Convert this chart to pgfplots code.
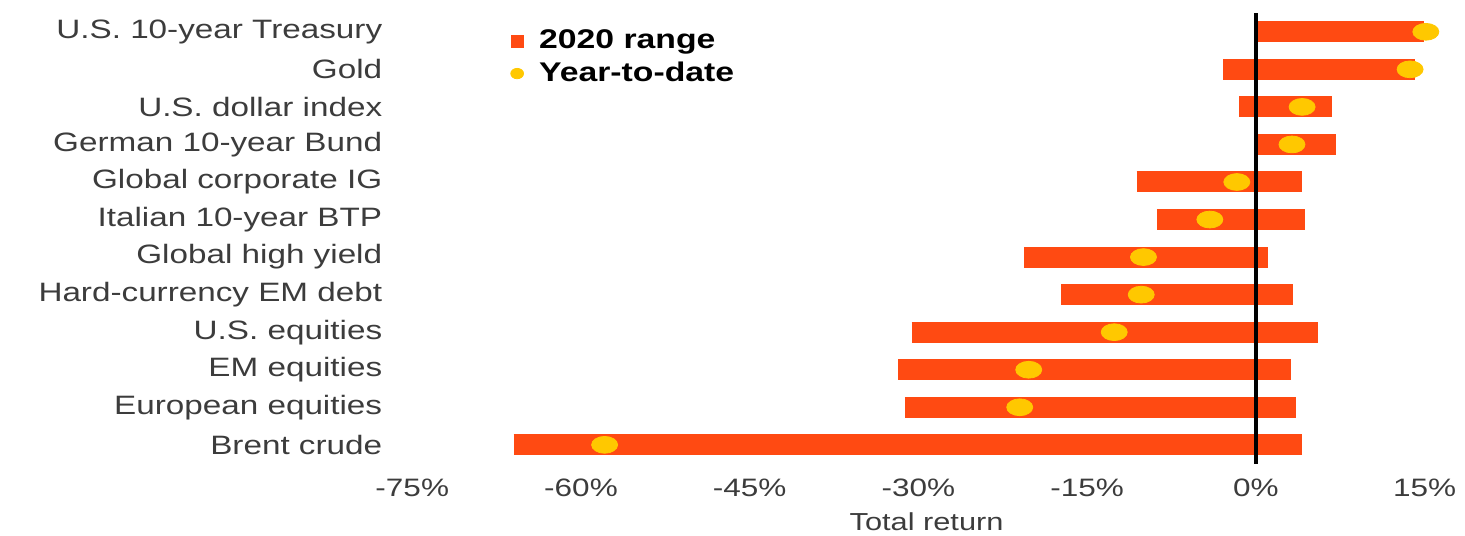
\documentclass[border=0pt]{standalone}
\usepackage{pgfplots}
\pgfplotsset{compat=1.18}
\usepackage{pgfplotstable}
\usepackage{fontspec}
\setmainfont{Liberation Sans}[FakeStretch=1.25]
\definecolor{barred}{RGB}{255,74,18}
\definecolor{dotyellow}{RGB}{255,200,0}
\definecolor{txtgray}{RGB}{60,60,60}

\pgfplotstableread{
y lo hi ytd
11 0.1 14.9 15.1
10 -2.9 14.1 13.7
9 -1.5 6.8 4.1
8 0.1 7.1 3.2
7 -10.6 4.1 -1.7
6 -8.8 4.4 -4.1
5 -20.6 1.1 -10.0
4 -17.3 3.3 -10.2
3 -30.6 5.5 -12.6
2 -31.8 3.1 -20.2
1 -31.2 3.6 -21.0
0 -66.0 4.1 -57.9
}\data

\begin{document}
\begin{tikzpicture}
\begin{axis}[
  scale only axis,
  width=506.25pt, height=225.3pt,
  xmin=-75, xmax=15, ymin=-0.5, ymax=11.5,
  axis line style={draw=none},
  tick style={draw=none},
  clip=false,
  xtick={-75,-60,-45,-30,-15,0,15},
  xticklabel={\pgfmathprintnumber{\tick}\%},
  /pgf/number format/assume math mode=true,
  xticklabel style={font=\fontsize{12.6}{15}\selectfont, text=txtgray, yshift=-4.3pt},
  ytick={0,...,11},
  yticklabels={Brent crude, European equities, EM equities, U.S. equities, Hard-currency EM debt, Global high yield, Italian 10-year BTP, Global corporate IG, German 10-year Bund, U.S. dollar index, Gold, U.S. 10-year Treasury},
  yticklabel style={font=\fontsize{13.3}{16}\selectfont, text=txtgray, xshift=-11.5pt},
  xlabel={Total return},
  xlabel style={at={(rel axis cs:0.508,0)}, anchor=center, yshift=-29.0pt, font=\fontsize{12.3}{14}\selectfont, text=txtgray},
  legend style={at={(rel axis cs:0.0965,0.972)}, anchor=north west, draw=none, fill=none,
    font=\fontsize{13.5}{16}\selectfont\bfseries, row sep=1.2pt, inner sep=0pt},
  legend cell align=left,
]
\addlegendimage{legend image code/.code={\fill[barred] (0pt,-3pt) rectangle (6pt,3pt); \path[draw=none,fill=none] (0pt,0pt) -- (12pt,0pt);}}
\addlegendentry{2020 range}
\addlegendimage{legend image code/.code={\fill[dotyellow] (3pt,0pt) ellipse (3.2pt and 2.6pt); \path[draw=none,fill=none] (0pt,0pt) -- (12pt,0pt);}}
\addlegendentry{Year-to-date}

\addplot[forget plot, draw=none, mark=none,
  error bars/.cd, x dir=plus, x explicit, error mark=none,
  error bar style={line width=10.5pt, color=barred, line cap=butt}]
  table[x=lo, y=y, x error expr=\thisrow{hi}-\thisrow{lo}] {\data};

\addplot[forget plot, black, line width=2pt] coordinates {(0,-0.5) (0,11.5)};

\addplot[forget plot, only marks, mark=*, mark size=4.2pt, color=dotyellow,
  mark options={xscale=1.55, draw=none, fill=dotyellow}]
  table[x=ytd, y=y] {\data};

\coordinate (bl) at (rel axis cs:-0.4072,-0.1585);
\coordinate (tr) at (rel axis cs:1.0398,1.0289);
\end{axis}
\pgfresetboundingbox
\useasboundingbox (bl) rectangle (tr);
\end{tikzpicture}
\end{document}
